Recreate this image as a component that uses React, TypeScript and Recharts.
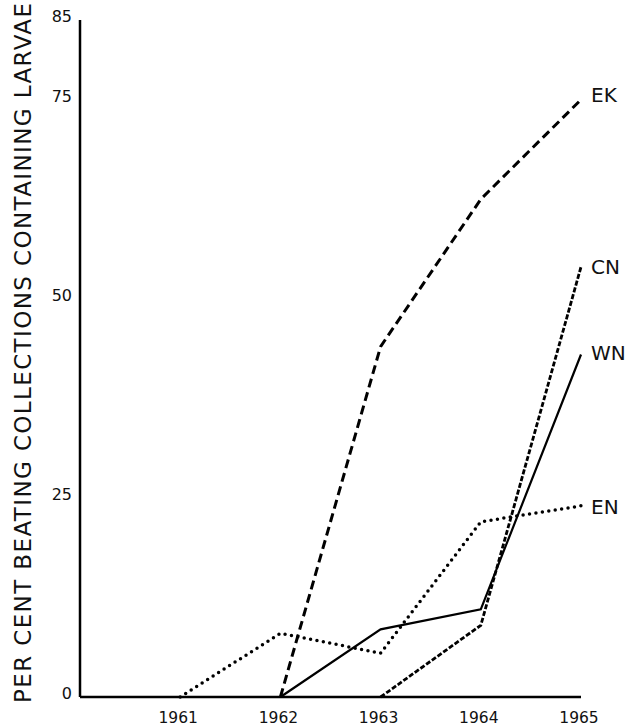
import React from 'react';
import { LineChart, Line, XAxis, YAxis, LabelList } from 'recharts';

const years = [1961, 1962, 1963, 1964, 1965];
const ek = [null, 0, 44, 62.5, 75];
const cn = [null, null, 0, 9, 54];
const wn = [null, 0, 8.5, 11, 43];
const en = [0, 8, 5.5, 22, 24];
const yTicks = [0, 25, 50, 75, 85];
const seriesNames = ['EK', 'CN', 'WN', 'EN'];

const data = years.map((y, i) => ({ year: y, EK: ek[i], CN: cn[i], WN: wn[i], EN: en[i] }));

const FONT = '"DejaVu Sans", sans-serif';
const labelDy: Record<string, number> = { EK: -5, CN: 0, WN: -2, EN: 1 };

const XTick = (props: any) => {
  const { x, y, payload } = props;
  return (
    <text x={x - 2} y={y + 26} textAnchor="middle" fontSize={15.5} fontFamily={FONT} fill="#111">
      {payload.value}
    </text>
  );
};

const YTick = (props: any) => {
  const { x, y, payload } = props;
  return (
    <text x={x} y={y + 2} textAnchor="end" fontSize={16} fontFamily={FONT} fill="#111">
      {payload.value}
    </text>
  );
};

const endLabel = (name: string) => (props: any) => {
  const { x, y, index } = props;
  if (index !== years.length - 1) return null;
  return (
    <text x={x + 10} y={y + labelDy[name] + 7} fontSize={20} fontFamily={FONT} fill="#111">
      {name}
    </text>
  );
};

export default function App() {
  return (
    <div style={{ position: 'absolute', left: 0, top: 0, width: 633, height: 727, background: '#fff' }}>
      <LineChart width={633} height={727} data={data} margin={{ top: 20, right: 52, bottom: 0, left: 50 }}>
        <XAxis
          dataKey="year"
          type="number"
          domain={[1960, 1965]}
          ticks={years}
          tickLine={false}
          tickSize={0}
          tickMargin={0}
          height={30}
          axisLine={{ stroke: '#000', strokeWidth: 2.5 }}
          tick={<XTick />}
        />
        <YAxis
          type="number"
          domain={[0, 85]}
          ticks={yTicks}
          tickLine={false}
          tickSize={0}
          tickMargin={8}
          width={30}
          axisLine={{ stroke: '#000', strokeWidth: 2.5 }}
          tick={<YTick />}
          label={{
            content: () => (
              <text
                transform="translate(31, 353) rotate(-90)"
                textAnchor="middle"
                fontSize={23}
                fontFamily={FONT}
                fill="#111"
                textLength={700}
                lengthAdjust="spacing"
              >
                PER CENT BEATING COLLECTIONS CONTAINING LARVAE
              </text>
            ),
          }}
        />
        <Line dataKey="EK" type="linear" stroke="#000" strokeWidth={3} strokeDasharray="9 5" dot={false} isAnimationActive={false}>
          <LabelList dataKey="EK" content={endLabel(seriesNames[0])} />
        </Line>
        <Line dataKey="CN" type="linear" stroke="#000" strokeWidth={2.8} strokeDasharray="5 2" dot={false} isAnimationActive={false}>
          <LabelList dataKey="CN" content={endLabel(seriesNames[1])} />
        </Line>
        <Line dataKey="WN" type="linear" stroke="#000" strokeWidth={2.2} dot={false} isAnimationActive={false}>
          <LabelList dataKey="WN" content={endLabel(seriesNames[2])} />
        </Line>
        <Line dataKey="EN" type="linear" stroke="#000" strokeWidth={3.5} strokeDasharray="0 6.5" strokeLinecap="round" dot={false} isAnimationActive={false}>
          <LabelList dataKey="EN" content={endLabel(seriesNames[3])} />
        </Line>
      </LineChart>
    </div>
  );
}
